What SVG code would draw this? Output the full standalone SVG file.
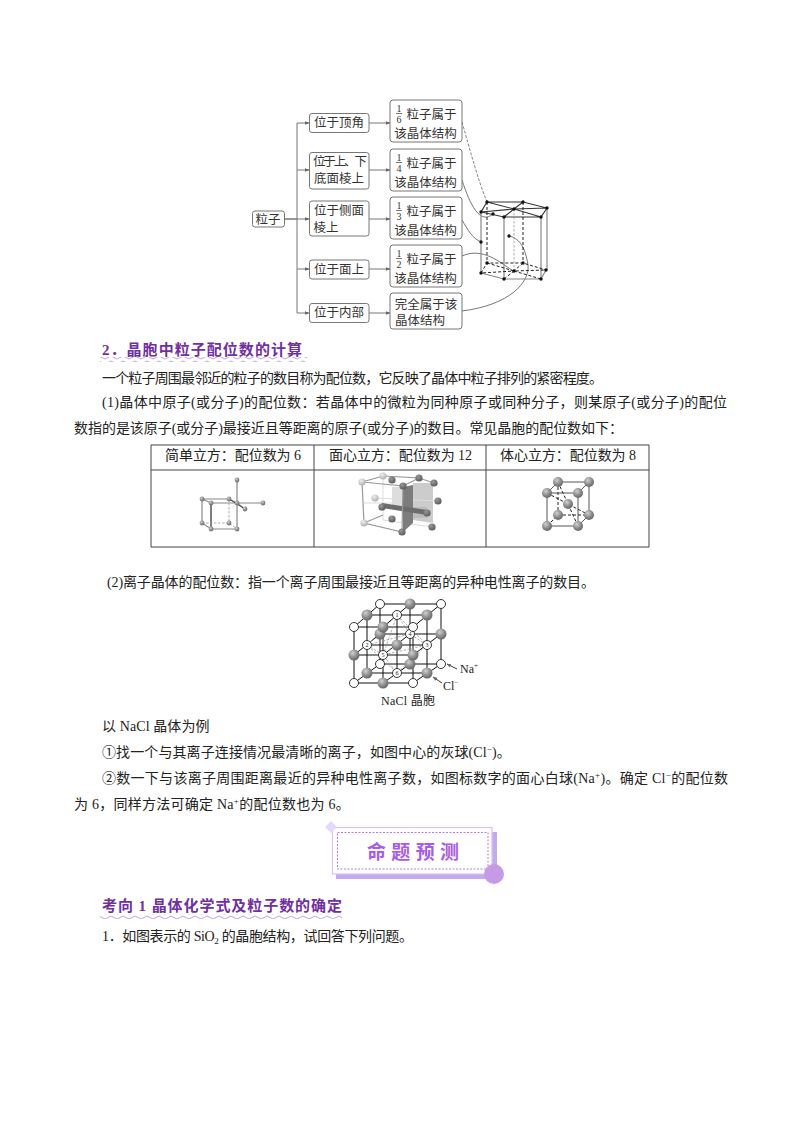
<svg xmlns="http://www.w3.org/2000/svg" width="800" height="1132" viewBox="0 0 800 1132">
<style>
text{font-family:"Liberation Serif","Noto Sans CJK SC",serif;fill:#222}
.b{font-size:14px}
.h{font-size:15px;font-weight:700;fill:#7030a0}
.n{font-size:12.5px;fill:#333;text-anchor:middle}
.f{font-size:10px;fill:#333;text-anchor:middle}
.box{fill:#fff;stroke:#777;stroke-width:1}
.ln{fill:none;stroke:#777;stroke-width:1}
.dash{fill:none;stroke:#666;stroke-width:.8;stroke-dasharray:3 1.5}
.curve{fill:none;stroke:#666;stroke-width:.9}
.ed{fill:none;stroke:#222;stroke-width:1;stroke-dasharray:3 2}
.t{fill:none;stroke:#333;stroke-width:1.100}
.g{fill:none;stroke:#888;stroke-width:1.200}
.gd{fill:none;stroke:#999;stroke-width:.8;stroke-dasharray:2.5 1.5}
</style>
<defs>
<marker id="ah" markerWidth="5" markerHeight="5" refX="4.500" refY="2.500" orient="auto"><path d="M0 .5L5 2.500L0 4.500z" fill="#666"/></marker>
<radialGradient id="gs" cx=".38" cy=".32" r=".75"><stop offset="0" stop-color="#d0d0d0"/><stop offset=".6" stop-color="#868686"/><stop offset="1" stop-color="#606060"/></radialGradient>
<radialGradient id="ds" cx=".38" cy=".32" r=".75"><stop offset="0" stop-color="#999"/><stop offset="1" stop-color="#555"/></radialGradient>
<radialGradient id="ps" cx=".38" cy=".32" r=".75"><stop offset="0" stop-color="#eee"/><stop offset="1" stop-color="#aaa"/></radialGradient>
<circle id="d" r="1.700" fill="#111"/>
<circle id="s3" r="2.400" fill="url(#gs)"/>
<circle id="s5" r="5" fill="url(#gs)"/>
<circle id="sd" r="3.600" fill="url(#ds)"/>
<circle id="sp" r="3.600" fill="url(#ps)"/>
<circle id="gr" r="5.500" fill="url(#gs)"/>
<circle id="wh" r="4.500" fill="#fff" stroke="#222" stroke-width=".9"/>
<pattern id="wave" width="12" height="5" patternUnits="userSpaceOnUse"><path d="M0 2.500Q3 -.5 6 2.500T12 2.500" fill="none" stroke="#b79ad6" stroke-width=".9"/></pattern>
</defs>
<rect width="800" height="1132" fill="#fff"/>

<g id="connectors">
<path class="ln" d="M284 219H297M297 123V313"/>
<path class="ln" marker-end="url(#ah)" d="M297 123H309"/>
<path class="ln" marker-end="url(#ah)" d="M297 170H309"/>
<path class="ln" marker-end="url(#ah)" d="M284 219H309"/>
<path class="ln" marker-end="url(#ah)" d="M297 269H309"/>
<path class="ln" marker-end="url(#ah)" d="M297 313H309"/>
<path class="ln" marker-end="url(#ah)" d="M369 123H390"/>
<path class="ln" marker-end="url(#ah)" d="M369 170H390"/>
<path class="ln" marker-end="url(#ah)" d="M369 219H390"/>
<path class="ln" marker-end="url(#ah)" d="M369 269H390"/>
<path class="ln" marker-end="url(#ah)" d="M369 313H390"/>
<path class="dash" d="M462 122C470 150 478 180 487 202"/>
<path class="curve" d="M462 180C470 205 480 225 493 214"/>
<path class="curve" d="M462 220C468 230 472 238 481 242"/>
<path class="curve" d="M462 256C480 248 495 258 513 271"/>
<path class="curve" d="M462 311C510 305 530 282 528 265C525 245 518 238 509 236"/>
</g>

<g id="n-root"><rect class="box" x="252.500" y="211" width="32" height="16" rx="2.500"/><text class="n" x="268" y="224">粒子</text></g>
<g id="n-a1"><rect class="box" x="309.500" y="113.500" width="59.500" height="19" rx="2.500"/><text class="n" x="339" y="127">位于顶角</text></g>
<g id="n-a2"><rect class="box" x="309.500" y="152.500" width="59.500" height="36.500" rx="2.500"/><text class="n" x="313" y="166" style="text-anchor:start" textLength="54">位于上、下</text><text class="n" x="339" y="183">底面棱上</text></g>
<g id="n-a3"><rect class="box" x="309.500" y="201" width="59.500" height="35" rx="2.500"/><text class="n" x="339" y="215">位于侧面</text><text class="n" x="326" y="232">棱上</text></g>
<g id="n-a4"><rect class="box" x="309.500" y="260" width="59.500" height="19" rx="2.500"/><text class="n" x="339" y="274">位于面上</text></g>
<g id="n-a5"><rect class="box" x="309.500" y="303.500" width="59.500" height="19" rx="2.500"/><text class="n" x="339" y="317">位于内部</text></g>

<g id="n-b1"><rect class="box" x="390" y="100" width="72" height="42" rx="3"/><text class="f" x="399" y="112">1</text><path class="ln" d="M396 113.500H402"/><text class="f" x="399" y="123">6</text><text class="n" x="431.500" y="119">粒子属于</text><text class="n" x="425.500" y="138">该晶体结构</text></g>
<g id="n-b2"><rect class="box" x="390" y="149" width="72" height="42" rx="3"/><text class="f" x="399" y="161">1</text><path class="ln" d="M396 162.500H402"/><text class="f" x="399" y="172">4</text><text class="n" x="431.500" y="168">粒子属于</text><text class="n" x="425.500" y="187">该晶体结构</text></g>
<g id="n-b3"><rect class="box" x="390" y="197" width="72" height="42" rx="3"/><text class="f" x="399" y="209">1</text><path class="ln" d="M396 210.500H402"/><text class="f" x="399" y="220">3</text><text class="n" x="431.500" y="216">粒子属于</text><text class="n" x="425.500" y="235">该晶体结构</text></g>
<g id="n-b4"><rect class="box" x="390" y="245" width="72" height="42" rx="3"/><text class="f" x="399" y="257">1</text><path class="ln" d="M396 258.500H402"/><text class="f" x="399" y="268">2</text><text class="n" x="431.500" y="264">粒子属于</text><text class="n" x="425.500" y="283">该晶体结构</text></g>
<g id="n-b5"><rect class="box" x="390" y="293" width="72" height="36" rx="3"/><text class="n" x="426" y="309">完全属于该</text><text class="n" x="420" y="325">晶体结构</text></g>

<g id="hex-prism">
<path class="t" d="M487 202L523 202L547 208L541 217L504 217L481 212zM487 202L514 209L547 208M523 202L514 209L481 212M514 209L541 217M504 217L514 209"/>
<path class="g" d="M481 212V273M504 217V279M541 217V279M547 208V270"/>
<path class="gd" d="M514 209V271"/>
<path class="ed" d="M487 202V263M523 202V263"/>
<path class="g" d="M481 273L504 279L541 279L546 270"/>
<path class="ed" d="M481 273L487 263L523 263L546 270M487 263L514 271L546 270M523 263L514 271L481 273M514 271L541 279M504 279L514 271"/>
<use href="#d" x="487" y="202"/><use href="#d" x="523" y="202"/><use href="#d" x="547" y="208"/><use href="#d" x="541" y="217"/><use href="#d" x="504" y="217"/><use href="#d" x="481" y="212"/><use href="#d" x="514" y="209"/><use href="#d" x="493" y="214"/>
<use href="#d" x="487" y="263"/><use href="#d" x="523" y="263"/><use href="#d" x="546" y="270"/><use href="#d" x="541" y="279"/><use href="#d" x="504" y="279"/><use href="#d" x="481" y="273"/><use href="#d" x="514" y="271"/><use href="#d" x="509" y="236"/><use href="#d" x="481" y="242"/>
</g>

<rect x="100" y="357" width="207" height="5" fill="url(#wave)"/>
<text class="h" x="102" y="355" textLength="200">2．晶胞中粒子配位数的计算</text>
<text class="b" x="102" y="383" textLength="501">一个粒子周围最邻近的粒子的数目称为配位数，它反映了晶体中粒子排列的紧密程度。</text>
<text class="b" x="102" y="407" textLength="625">(1)晶体中原子(或分子)的配位数：若晶体中的微粒为同种原子或同种分子，则某原子(或分子)的配位</text>
<text class="b" x="74" y="433" textLength="549">数指的是该原子(或分子)最接近且等距离的原子(或分子)的数目。常见晶胞的配位数如下：</text>

<g id="table">
<path d="M151 445H649V547H151zM151 470H649M314 445V547M486 445V547" fill="none" stroke="#444" stroke-width="1"/>
<text class="b" x="165" y="460" textLength="136">简单立方：配位数为 6</text>
<text class="b" x="329" y="460" textLength="143">面心立方：配位数为 12</text>
<text class="b" x="500" y="460" textLength="136">体心立方：配位数为 8</text>
</g>
<g id="simple-cubic">
<path class="g" d="M202 499H229L237 503H211zM202 499V523L211 529H237V503M211 503V529M237 480V503M237 503H263M237 503L245 509M229 499L237 503"/>
<path d="M211 503V529M229 499L245 509" fill="none" stroke="#444" stroke-width="1"/>
<path class="gd" d="M229 499V523M202 523H229L237 529"/>
<use href="#s3" x="237" y="480"/><use href="#s3" x="202" y="499"/><use href="#s3" x="229" y="499"/><use href="#s3" x="211" y="503"/><use href="#s3" x="237" y="503"/><use href="#s3" x="263" y="503"/><use href="#s3" x="245" y="509"/><use href="#s3" x="202" y="523"/><use href="#s3" x="229" y="523"/><use href="#s3" x="211" y="529"/><use href="#s3" x="237" y="529"/>
</g>
<g id="fcc">
<path d="M413 483H433V523L413 520z" fill="#ccc"/>
<path d="M392 487H403V507L392 505z" fill="#ddd"/>
<path d="M413 507H427V518H413z" fill="#bbb"/>
<path d="M375 498L438 501M383 477V520M364 503H403M383 520L432 527" fill="none" stroke="#ddd" stroke-width="1"/>
<path d="M403 487L413 485V523L403 532z" fill="#7c7c7c"/>
<path d="M382 503L427 510V515L382 508z" fill="#6c6c6c"/>
<path d="M362 482L403 486L402 532L364 523zM383 476L419 478L403 486M362 482L383 476M419 478L434 483M364 523L383 515" fill="none" stroke="#999" stroke-width="1.200"/>
<use href="#sp" x="383" y="476"/><use href="#sp" x="362" y="482"/><use href="#sd" x="392" y="480"/><use href="#sd" x="419" y="478"/><use href="#sd" x="434" y="483"/><use href="#sd" x="403" y="486"/><use href="#sp" x="375" y="498"/><use href="#sd" x="438" y="501"/><use href="#sd" x="382" y="507"/><use href="#sd" x="427" y="513"/><use href="#sd" x="392" y="519"/><use href="#sp" x="364" y="523"/><use href="#sd" x="402" y="532"/><use href="#sd" x="432" y="527"/>
</g>
<g id="bcc">
<path d="M558 482H589V515M589 482L578 493H547L558 482M547 493V526H578V493M578 526L589 515" fill="none" stroke="#555" stroke-width="1"/>
<path class="ed" d="M558 482V515L547 526M558 515H589M558 482L578 526M547 493L589 515"/>
<use href="#s5" x="558" y="482"/><use href="#s5" x="589" y="482"/><use href="#s5" x="547" y="493"/><use href="#s5" x="578" y="493"/><use href="#s5" x="568" y="504"/><use href="#s5" x="558" y="515"/><use href="#s5" x="589" y="515"/><use href="#s5" x="547" y="526"/><use href="#s5" x="578" y="526"/>
</g>

<text class="b" x="107" y="587" textLength="488">(2)离子晶体的配位数：指一个离子周围最接近且等距离的异种电性离子的数目。</text>

<g id="nacl">
<path d="M354 683H413M354 655H413M354 627H413M367 673H427M367 645H427M367 615H427M380 664H441M380 634H441M380 604H441M354 683V627M383 683V627M413 683V627M367 673V615M397 673V615M427 673V615M380 664V604M410 664V604M441 664V604M354 683L380 664M354 655L380 634M354 627L380 604M383 683L410 664M383 655L410 634M383 627L410 604M413 683L441 664M413 655L441 634M413 627L441 604" fill="none" stroke="#111" stroke-width="1"/>
<path class="gd" d="M397 615L367 645L397 673L427 645zM397 615L383 655L397 673M397 615L410 634L427 645M367 645L383 655L427 645M367 645L410 634"/>
<use href="#wh" x="380" y="664"/><use href="#gr" x="410" y="664"/><use href="#wh" x="441" y="664"/><use href="#gr" x="380" y="634"/><use href="#wh" x="410" y="634"/><use href="#gr" x="441" y="634"/><use href="#wh" x="380" y="604"/><use href="#gr" x="410" y="604"/><use href="#wh" x="441" y="604"/>
<use href="#gr" x="367" y="673"/><use href="#wh" x="397" y="673"/><use href="#gr" x="427" y="673"/><use href="#wh" x="367" y="645"/><use href="#gr" x="397" y="645"/><use href="#wh" x="427" y="645"/><use href="#gr" x="367" y="615"/><use href="#wh" x="397" y="615"/><use href="#gr" x="427" y="615"/>
<use href="#wh" x="354" y="683"/><use href="#gr" x="383" y="683"/><use href="#wh" x="413" y="683"/><use href="#gr" x="354" y="655"/><use href="#wh" x="383" y="655"/><use href="#gr" x="413" y="655"/><use href="#wh" x="354" y="627"/><use href="#gr" x="383" y="627"/><use href="#wh" x="413" y="627"/>
<g style="font-size:6px;text-anchor:middle"><text x="397" y="617">1</text><text x="367" y="647">2</text><text x="427" y="647">3</text><text x="410" y="636">4</text><text x="383" y="657">5</text><text x="397" y="675">6</text></g>
<path d="M457 669L447 664" fill="none" stroke="#222" stroke-width=".9" marker-end="url(#ah)"/>
<path d="M442 683L433 677" fill="none" stroke="#222" stroke-width=".9" marker-end="url(#ah)"/>
<text x="460" y="673" font-size="12">Na<tspan font-size="7" dy="-5">+</tspan></text>
<text x="443" y="690" font-size="12">Cl<tspan font-size="7" dy="-5">−</tspan></text>
<text x="381" y="705" font-size="12" textLength="54">NaCl 晶胞</text>
</g>

<text class="b" x="102" y="731" letter-spacing=".1">以 NaCl 晶体为例</text>
<text class="b" x="102" y="757" letter-spacing=".1">①找一个与其离子连接情况最清晰的离子，如图中心的灰球(Cl<tspan font-size="9" dy="-5">−</tspan><tspan dy="5">)。</tspan></text>
<text class="b" x="102" y="783" letter-spacing=".28">②数一下与该离子周围距离最近的异种电性离子数，如图标数字的面心白球(Na<tspan font-size="9" dy="-5">+</tspan><tspan dy="5">)。确定 Cl</tspan><tspan font-size="9" dy="-5">−</tspan><tspan dy="5">的配位数</tspan></text>
<text class="b" x="74" y="809" letter-spacing=".25">为 6，同样方法可确定 Na<tspan font-size="9" dy="-5">+</tspan><tspan dy="5">的配位数也为 6。</tspan></text>

<g id="banner">
<rect x="336" y="832" width="161" height="47" fill="#c4aaf2"/>
<rect x="332.500" y="827.500" width="159.500" height="46.500" fill="#fff" stroke="#d9c2f5" stroke-width="1.200"/>
<rect x="337.500" y="832.500" width="150.500" height="36.500" fill="none" stroke="#b57ae8" stroke-width="1" stroke-dasharray="2 1.500"/>
<path d="M331 821L337 827L331 833L325 827z" fill="#e6d9f7"/>
<circle cx="494" cy="874" r="10" fill="#c79ae8"/>
<text x="367" y="859" style="font-size:19px;font-weight:700;fill:#a85be6;font-family:'Noto Sans CJK SC',sans-serif" textLength="92">命题预测</text>
</g>

<rect x="100" y="914" width="242" height="5" fill="url(#wave)"/>
<text class="h" x="102" y="911" textLength="240">考向 1 晶体化学式及粒子数的确定</text>
<text class="b" x="102" y="941" textLength="311">1．如图表示的 SiO<tspan font-size="9" dy="3">2</tspan><tspan dy="-3"> 的晶胞结构，试回答下列问题。</tspan></text>
</svg>
